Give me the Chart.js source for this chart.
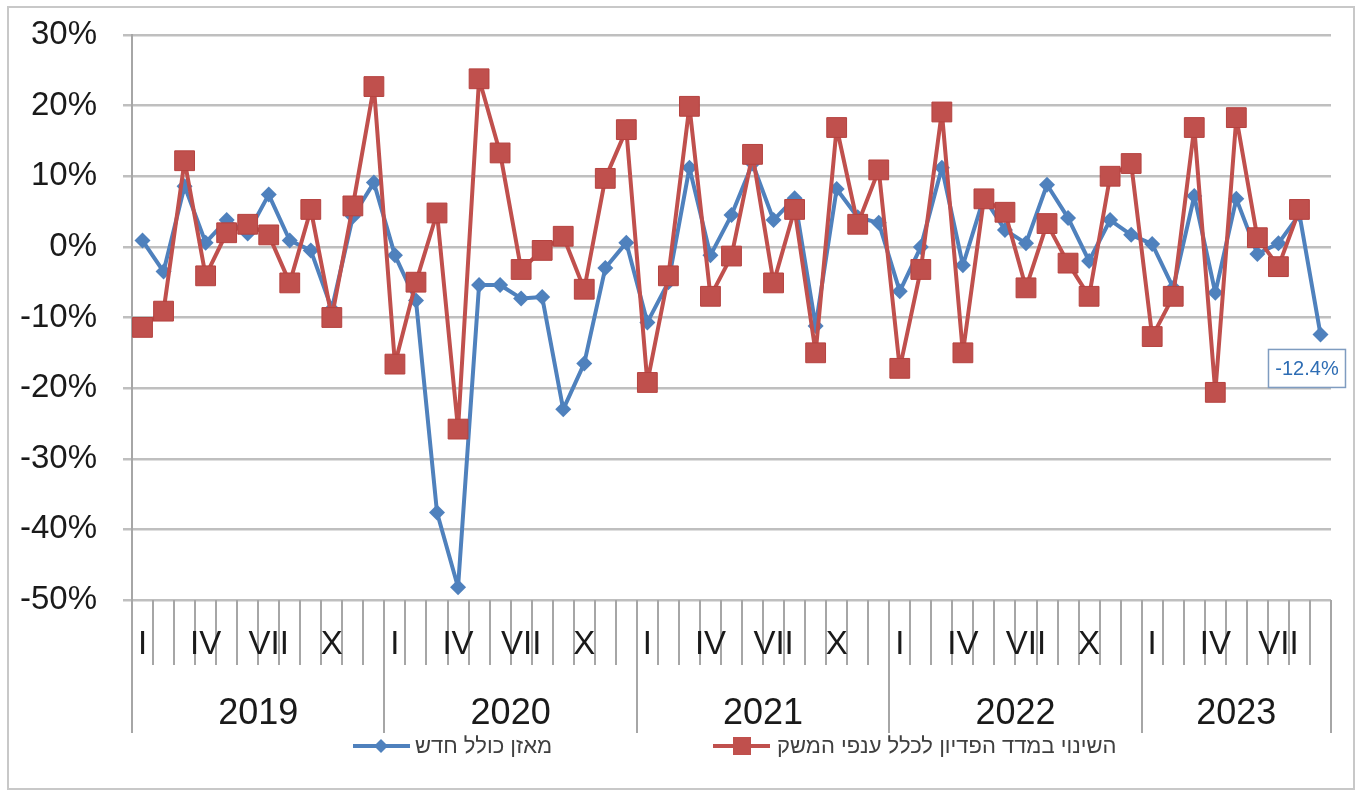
<!DOCTYPE html>
<html lang="he">
<head>
<meta charset="utf-8">
<title>מאזן כולל חדש / השינוי במדד הפדיון</title>
<script src="https://cdn.jsdelivr.net/npm/chart.js@4.4.1/dist/chart.umd.min.js"></script>
<style>
  html, body { margin: 0; padding: 0; background: #fff; }
  #chart { display: block; }
</style>
</head>
<body>
<canvas id="chart" width="1356" height="791"></canvas>
<script>
// ---------------------------------------------------------------
// נתונים - חודשי, ינואר 2019 עד ספטמבר 2023
// ---------------------------------------------------------------
const years = ['2019', '2020', '2021', '2022', '2023'];
const monthsPerYear = [12, 12, 12, 12, 9];
const monthLabels = ['I', '', '', 'IV', '', '', 'VII', '', '', 'X', '', ''];

const seriesNames = ['מאזן כולל חדש', 'השינוי במדד הפדיון לכלל ענפי המשק'];

// מאזן כולל חדש (%)
const balanceValues = [
    0.9, -3.5, 8.6, 0.6, 3.8, 1.9, 7.4, 0.9, -0.5, -8.8, 4.3, 9.1,
    -1.2, -7.6, -37.6, -48.2, -5.4, -5.4, -7.3, -7.1, -23.0, -16.5, -3.0, 0.6,
    -10.7, -5.0, 11.2, -1.2, 4.5, 11.8, 3.8, 6.9, -11.2, 8.2, 4.2, 3.4,
    -6.3, 0.0, 11.2, -2.6, 7.0, 2.4, 0.5, 8.8, 4.1, -2.0, 3.8, 1.7,
    0.4, -5.8, 7.2, -6.5, 6.8, -1.0, 0.5, 4.6, -12.4
];

// השינוי במדד הפדיון (%)
const turnoverValues = [
    -11.4, -9.1, 12.2, -4.1, 2.0, 3.2, 1.7, -5.1, 5.3, -10.0, 5.8, 22.7,
    -16.6, -5.0, 4.8, -25.8, 23.8, 13.3, -3.2, -0.5, 1.5, -6.0, 9.7, 16.6,
    -19.2, -4.1, 19.9, -7.0, -1.3, 13.1, -5.1, 5.3, -15.0, 16.9, 3.2, 10.9,
    -17.2, -3.2, 19.1, -15.0, 6.8, 4.9, -5.8, 3.3, -2.3, -7.0, 10.0, 11.8,
    -12.7, -7.0, 16.9, -20.6, 18.3, 1.3, -2.8, 5.3, null
];

const yTicks = [30, 20, 10, 0, -10, -20, -30, -40, -50];

// קטגוריות (שנה-חודש)
const categories = [];
years.forEach((y, yi) => {
    for (let m = 0; m < monthsPerYear[yi]; m++) categories.push(y + '-' + (m + 1));
});

const BLUE = '#4F81BD';
const RED = '#C0504D';
const GRID = '#BFBFBF';
const AXIS = '#A6A6A6';
const FONT = '"Liberation Sans", Arial, "DejaVu Sans", sans-serif';

// ---------------------------------------------------------------
// ציר X דו-שכבתי, מקרא, תווית נתון ומסגרת
// ---------------------------------------------------------------
const decorPlugin = {
    id: 'decor',
    afterDraw(chart) {
        const ctx = chart.ctx;
        const area = chart.chartArea;
        const x = chart.scales.x;
        const step = x.getPixelForValue(1) - x.getPixelForValue(0);
        const bottom = area.bottom;

        ctx.save();

        // קווי חלוקה בין חודשים ושנים
        ctx.strokeStyle = AXIS;
        ctx.lineWidth = 2;
        let idx = 0;
        const yearStarts = [];
        monthsPerYear.forEach(n => { yearStarts.push(idx); idx += n; });
        for (let i = 0; i <= categories.length; i++) {
            const px = Math.round(x.getPixelForValue(0) - step / 2 + i * step);
            const isYear = yearStarts.includes(i) || i === categories.length;
            ctx.beginPath();
            ctx.moveTo(px, bottom);
            ctx.lineTo(px, bottom + (isYear ? 133 : 65));
            ctx.stroke();
        }

        // תוויות חודשים
        ctx.fillStyle = '#1a1a1a';
        ctx.textAlign = 'center';
        ctx.textBaseline = 'middle';
        ctx.font = '33px ' + FONT;
        idx = 0;
        monthsPerYear.forEach(n => {
            for (let m = 0; m < n; m++) {
                if (monthLabels[m]) ctx.fillText(monthLabels[m], x.getPixelForValue(idx + m), bottom + 45);
            }
            idx += n;
        });

        // תוויות שנים
        ctx.font = '36px ' + FONT;
        idx = 0;
        years.forEach((y, yi) => {
            const n = monthsPerYear[yi];
            const cx = (x.getPixelForValue(idx) + x.getPixelForValue(idx + n - 1)) / 2;
            ctx.fillText(y, cx, bottom + 114);
            idx += n;
        });

        // מקרא
        const ly = bottom + 146;
        ctx.font = '22px ' + FONT;
        ctx.textAlign = 'left';
        ctx.lineWidth = 4;

        ctx.strokeStyle = BLUE;
        ctx.beginPath(); ctx.moveTo(353, ly); ctx.lineTo(410, ly); ctx.stroke();
        ctx.fillStyle = BLUE;
        ctx.beginPath();
        ctx.moveTo(381, ly - 7); ctx.lineTo(388, ly); ctx.lineTo(381, ly + 7); ctx.lineTo(374, ly);
        ctx.closePath(); ctx.fill();
        ctx.fillStyle = '#404040';
        ctx.fillText(seriesNames[0], 415, ly + 1);

        ctx.strokeStyle = RED;
        ctx.beginPath(); ctx.moveTo(713, ly); ctx.lineTo(770, ly); ctx.stroke();
        ctx.fillStyle = RED;
        ctx.fillRect(733, ly - 9, 18, 18);
        ctx.fillStyle = '#404040';
        ctx.fillText(seriesNames[1], 777, ly + 1);

        // תווית הערך האחרון
        const meta = chart.getDatasetMeta(1);
        const last = meta.data[balanceValues.length - 1];
        const bx = last.x - 52, by = last.y + 15, bw = 77, bh = 38;
        ctx.fillStyle = '#fff';
        ctx.fillRect(bx, by, bw, bh);
        ctx.strokeStyle = '#7F9CC0';
        ctx.lineWidth = 1.5;
        ctx.strokeRect(bx, by, bw, bh);
        ctx.fillStyle = '#2E6DB4';
        ctx.font = '20px ' + FONT;
        ctx.textAlign = 'center';
        ctx.fillText(balanceValues[balanceValues.length - 1].toFixed(1) + '%', bx + bw / 2, by + bh / 2 + 1);

        // מסגרת חיצונית
        ctx.strokeStyle = '#C8C8C8';
        ctx.lineWidth = 2;
        ctx.strokeRect(8, 7, 1346, 782);

        ctx.restore();
    }
};

new Chart(document.getElementById('chart'), {
    type: 'line',
    data: {
        labels: categories,
        datasets: [
            {
                label: seriesNames[1],
                data: turnoverValues,
                borderColor: RED,
                backgroundColor: RED,
                borderWidth: 4,
                borderJoinStyle: 'round',
                pointStyle: 'rect',
                pointRadius: 14,
                pointBorderWidth: 1,
                pointBorderColor: '#B5423F',
                tension: 0,
                order: 0
            },
            {
                label: seriesNames[0],
                data: balanceValues,
                borderColor: BLUE,
                backgroundColor: BLUE,
                borderWidth: 4,
                borderJoinStyle: 'round',
                pointStyle: 'rectRot',
                pointRadius: 8,
                pointBorderWidth: 0,
                tension: 0,
                order: 1
            }
        ]
    },
    options: {
        responsive: false,
        animation: false,
        devicePixelRatio: 1,
        layout: { padding: { top: 35, right: 25, bottom: 191, left: 0 } },
        plugins: {
            legend: { display: false },
            tooltip: { enabled: false }
        },
        scales: {
            x: {
                type: 'category',
                display: false,
                offset: true
            },
            y: {
                min: -50,
                max: 30,
                afterFit(scale) {
                    scale.width = 132;
                    scale.paddingTop = 0;
                    scale.paddingBottom = 0;
                },
                afterBuildTicks(scale) { scale.ticks = yTicks.map(v => ({ value: v })); },
                border: { display: true, color: AXIS, width: 2 },
                grid: { color: GRID, lineWidth: 2.5, tickLength: 9, tickColor: GRID },
                ticks: {
                    padding: 26,
                    color: '#1a1a1a',
                    font: { family: FONT, size: 33 },
                    callback: v => v + '%'
                }
            }
        }
    },
    plugins: [decorPlugin]
});
</script>
</body>
</html>
